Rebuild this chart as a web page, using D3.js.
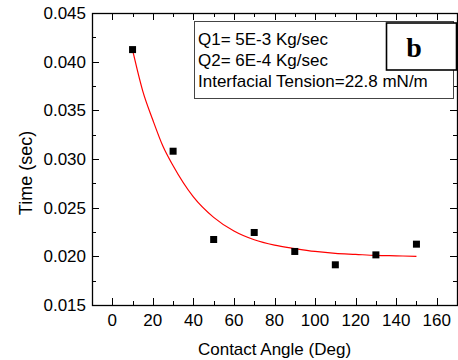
<!DOCTYPE html>
<html>
<head>
<meta charset="utf-8">
<script src="https://cdn.jsdelivr.net/npm/d3@7"></script>
<style>
	body { margin: 0; background: #fff; }
	text { font-family: "Liberation Sans", Arial, sans-serif; fill: #000; }
</style>
</head>
<body>
<svg width="458" height="360"></svg>
<script>
'use strict';

// measured points
var angles = [10, 30, 50, 70, 90, 110, 130, 150];
var times = [0.04124, 0.0308, 0.02173, 0.02245, 0.0205, 0.01913, 0.02015, 0.02125];

// red fit line
var fitAngles = [10, 15, 20, 25, 30, 40, 50, 60, 70, 80, 90, 100, 110, 120, 130, 140, 150];
var fitTimes = [0.0412, 0.0370, 0.0340, 0.0313, 0.0293, 0.0261, 0.0240, 0.0226, 0.0217, 0.02115, 0.0208, 0.0205, 0.0203, 0.0202, 0.0201, 0.02005, 0.0200];

var xTicks = [0, 20, 40, 60, 80, 100, 120, 140, 160];
var yTicks = [0.015, 0.020, 0.025, 0.030, 0.035, 0.040, 0.045];
var notes = ['Q1= 5E-3 Kg/sec', 'Q2= 6E-4 Kg/sec', 'Interfacial Tension=22.8 mN/m'];
var panelLabel = 'b';

var pLeft = 92, pRight = 457, pTop = 13, pBottom = 305;

var x = d3.scaleLinear().domain([-10, 170]).range([pLeft, pRight]);
var y = d3.scaleLinear().domain([0.015, 0.045]).range([pBottom, pTop]);

var svg = d3.select('svg');

// minor ticks every half step
var xMinor = d3.range(-10, 171, 10).filter(function(d){ return xTicks.indexOf(d) < 0; });
var yMinor = d3.range(0.0175, 0.045, 0.005);

var ticks = svg.append('g').attr('stroke', '#000').attr('stroke-width', 1);

function tickSetX(vals, len){
	vals.forEach(function(v){
		var px = Math.round(x(v)) + 0.5;
		ticks.append('line').attr('x1', px).attr('x2', px).attr('y1', pBottom).attr('y2', pBottom - len);
		ticks.append('line').attr('x1', px).attr('x2', px).attr('y1', pTop).attr('y2', pTop + len);
	});
}
function tickSetY(vals, len){
	vals.forEach(function(v){
		var py = Math.round(y(v)) + 0.5;
		ticks.append('line').attr('y1', py).attr('y2', py).attr('x1', pLeft).attr('x2', pLeft + len);
		ticks.append('line').attr('y1', py).attr('y2', py).attr('x1', pRight).attr('x2', pRight - len);
	});
}
tickSetX(xTicks, 7);
tickSetX(xMinor, 4);
tickSetY(yTicks, 7);
tickSetY(yMinor, 4);

svg.append('rect')
	.attr('x', pLeft + 0.5).attr('y', pTop + 0.5)
	.attr('width', pRight - pLeft).attr('height', pBottom - pTop)
	.attr('fill', 'none').attr('stroke', '#000').attr('stroke-width', 1.3);

// tick labels
svg.append('g').selectAll('text')
	.data(xTicks)
	.enter().append('text')
	.attr('x', function(d){ return x(d); })
	.attr('y', 326)
	.attr('text-anchor', 'middle')
	.style('font-size', '17px')
	.text(function(d){ return d; });

svg.append('g').selectAll('text')
	.data(yTicks)
	.enter().append('text')
	.attr('x', 86)
	.attr('y', function(d){ return y(d) + 6; })
	.attr('text-anchor', 'end')
	.style('font-size', '17px')
	.text(function(d){ return d3.format('.3f')(d); });

// axis titles
svg.append('text')
	.attr('x', (pLeft + pRight) / 2).attr('y', 355)
	.attr('text-anchor', 'middle')
	.style('font-size', '17px')
	.text('Contact Angle (Deg)');

svg.append('text')
	.attr('transform', 'translate(32,173) rotate(-90)')
	.attr('text-anchor', 'middle')
	.style('font-size', '18px')
	.text('Time (sec)');

// fit curve
var line = d3.line()
	.x(function(d){ return x(d[0]); })
	.y(function(d){ return y(d[1]); })
	.curve(d3.curveMonotoneX);

svg.append('path')
	.datum(d3.zip(fitAngles, fitTimes))
	.attr('d', line)
	.attr('fill', 'none')
	.attr('stroke', '#ff0000')
	.attr('stroke-width', 1.2);

// points
svg.append('g').selectAll('rect')
	.data(d3.zip(angles, times))
	.enter().append('rect')
	.attr('x', function(d){ return x(d[0]) - 3.5; })
	.attr('y', function(d){ return y(d[1]) - 3.5; })
	.attr('width', 7).attr('height', 7)
	.attr('fill', '#000');

// notes box
svg.append('rect')
	.attr('x', 194.5).attr('y', 21.5)
	.attr('width', 259).attr('height', 77)
	.attr('fill', '#fff').attr('stroke', '#444').attr('stroke-width', 1);

svg.append('g').selectAll('text')
	.data(notes)
	.enter().append('text')
	.attr('x', 198)
	.attr('y', function(d, i){ return 45 + i * 20.8; })
	.style('font-size', '17px')
	.text(function(d){ return d; });

svg.append('rect')
	.attr('x', 386.5).attr('y', 23)
	.attr('width', 70).attr('height', 47)
	.attr('fill', '#fff').attr('stroke', '#000').attr('stroke-width', 1.6);

svg.append('text')
	.attr('x', 414).attr('y', 57)
	.attr('text-anchor', 'middle')
	.style('font-family', '"Liberation Serif", "Times New Roman", serif')
	.style('font-weight', 'bold')
	.style('font-size', '28px')
	.text(panelLabel);
</script>
</body>
</html>
